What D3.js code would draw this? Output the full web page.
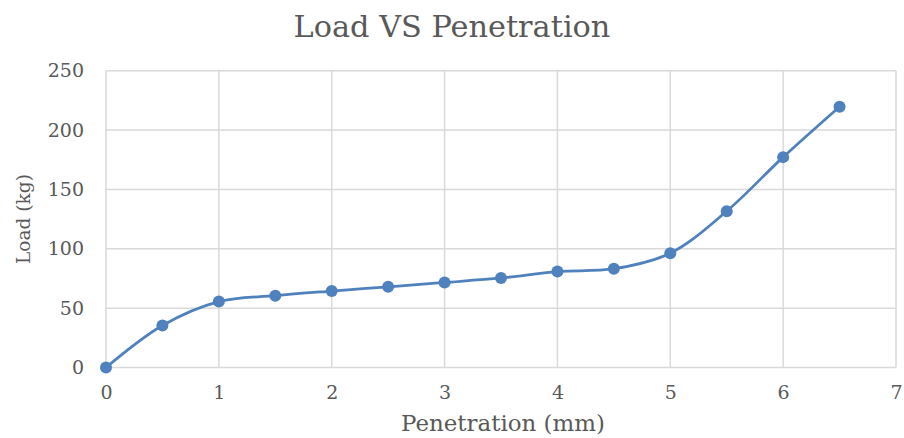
<!DOCTYPE html>
<html>
<head>
<meta charset="utf-8">
<script src="https://cdn.jsdelivr.net/npm/d3@7"></script>
<style>
  body { margin: 0; background: #fff; }
  text { font-family: "DejaVu Serif", "Liberation Serif", serif; fill: #595959; }
</style>
</head>
<body>
<svg id="chart" width="904" height="438"></svg>
<script>
// Load VS Penetration - smoothed line with markers

// Data
const penetration = [0, 0.5, 1, 1.5, 2, 2.5, 3, 3.5, 4, 4.5, 5, 5.5, 6, 6.5];
const load = [0, 35.4, 55.5, 60.5, 64.4, 68, 71.6, 75.4, 80.8, 83.2, 96.3, 131.7, 177.2, 219.7];
const xTicks = [0, 1, 2, 3, 4, 5, 6, 7];
const yTicks = [0, 50, 100, 150, 200, 250];

const data = penetration.map((p, i) => ({ x: p, y: load[i] }));

const svg = d3.select("#chart");

const margin = { top: 70.7, right: 8, bottom: 70.5, left: 106 };
const width = 904 - margin.left - margin.right;
const height = 438 - margin.top - margin.bottom;

const xScale = d3.scaleLinear().domain([0, 7]).range([margin.left, margin.left + width]);
const yScale = d3.scaleLinear().domain([0, 250]).range([margin.top + height, margin.top]);

// Fit a text element's font size so it spans a target width
function fitWidth(sel, target) {
  const w = sel.node().getComputedTextLength();
  const fs = parseFloat(sel.attr("font-size"));
  sel.attr("font-size", fs * target / w);
}

// Gridlines
svg.append("g")
  .selectAll("line.h")
  .data(yTicks)
  .enter()
  .append("line")
  .attr("x1", xScale(0))
  .attr("x2", xScale(7))
  .attr("y1", (d) => yScale(d))
  .attr("y2", (d) => yScale(d))
  .attr("stroke", "#d9d9d9")
  .attr("stroke-width", 1.5);

svg.append("g")
  .selectAll("line.v")
  .data(xTicks)
  .enter()
  .append("line")
  .attr("x1", (d) => xScale(d))
  .attr("x2", (d) => xScale(d))
  .attr("y1", yScale(0))
  .attr("y2", yScale(250))
  .attr("stroke", "#d9d9d9")
  .attr("stroke-width", 1.5);

// Axes (labels only, Excel style)
const xAxis = svg.append("g")
  .attr("transform", `translate(0,${yScale(0)})`)
  .call(d3.axisBottom(xScale).tickValues(xTicks).tickFormat(d3.format("d")).tickSize(0).tickPadding(18));
xAxis.select(".domain").remove();
xAxis.selectAll("text")
  .attr("font-size", 19)
  .style("font-family", '"DejaVu Serif", serif')
  .attr("fill", "#595959");

const yAxis = svg.append("g")
  .attr("transform", `translate(${xScale(0)},0)`)
  .call(d3.axisLeft(yScale).tickValues(yTicks).tickFormat(d3.format("d")).tickSize(0).tickPadding(22));
yAxis.select(".domain").remove();
yAxis.selectAll("text")
  .attr("font-size", 19)
  .style("font-family", '"DejaVu Serif", serif')
  .attr("fill", "#595959");

// Smoothed series line
const line = d3.line()
  .x((d) => xScale(d.x))
  .y((d) => yScale(d.y))
  .curve(d3.curveCatmullRom.alpha(0.5));

svg.append("path")
  .datum(data)
  .attr("fill", "none")
  .attr("stroke", "#4f81bd")
  .attr("stroke-width", 2.75)
  .attr("d", line);

svg.selectAll("circle")
  .data(data)
  .enter()
  .append("circle")
  .attr("cx", (d) => xScale(d.x))
  .attr("cy", (d) => yScale(d.y))
  .attr("r", 6)
  .attr("fill", "#4f81bd");

// Title
const title = svg.append("text")
  .attr("x", 452)
  .attr("y", 37)
  .attr("text-anchor", "middle")
  .attr("font-size", 26)
  .text("Load VS Penetration");
fitWidth(title, 317);

// Axis titles
const xLabel = svg.append("text")
  .attr("x", 503)
  .attr("y", 431)
  .attr("text-anchor", "middle")
  .attr("font-size", 18)
  .text("Penetration (mm)");
fitWidth(xLabel, 204);

const yLabel = svg.append("text")
  .attr("transform", `translate(30,${219}) rotate(-90)`)
  .attr("text-anchor", "middle")
  .attr("font-size", 18)
  .text("Load (kg)");
fitWidth(yLabel, 90);
</script>
</body>
</html>
